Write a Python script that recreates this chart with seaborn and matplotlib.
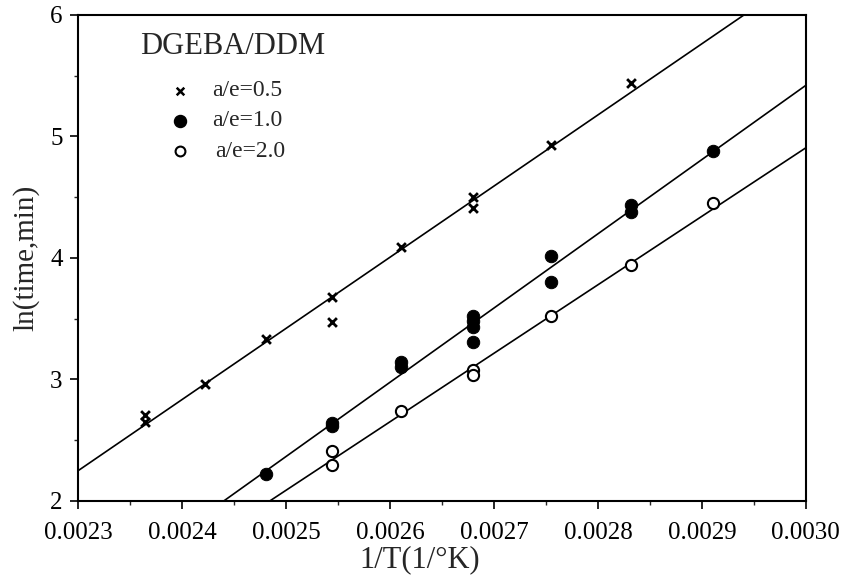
import numpy as np
import pandas as pd
import matplotlib
matplotlib.use("Agg")
import matplotlib.pyplot as plt
import seaborn as sns
from matplotlib.ticker import MultipleLocator

sns.set_style("ticks")
plt.rcParams['font.family'] = ['Liberation Serif', 'DejaVu Serif']
plt.rcParams['mathtext.fontset'] = 'stix'

# a/e = 0.5 (crosses)
x05 = [0.002364, 0.002364, 0.002422, 0.002481, 0.002544, 0.002544, 0.002611,
       0.002680, 0.002680, 0.002755, 0.002832]
y05 = [2.71, 2.65, 2.96, 3.33, 3.68, 3.47, 4.09, 4.50, 4.41, 4.93, 5.44]
# a/e = 1.0 (filled circles)
x10 = [0.002481, 0.002544, 0.002544, 0.002611, 0.002611, 0.002680, 0.002680,
       0.002680, 0.002680, 0.002755, 0.002755, 0.002832, 0.002832, 0.002911]
y10 = [2.22, 2.62, 2.64, 3.14, 3.10, 3.52, 3.48, 3.43, 3.31, 4.02, 3.80, 4.44,
       4.38, 4.88]
# a/e = 2.0 (open circles)
x20 = [0.002544, 0.002544, 0.002611, 0.002680, 0.002680, 0.002755, 0.002832,
       0.002911]
y20 = [2.41, 2.30, 2.74, 3.08, 3.04, 3.52, 3.94, 4.45]

labels = ["a/e=0.5", "a/e=1.0", "a/e=2.0"]
title_text = "DGEBA/DDM"

fig = plt.figure(figsize=(8.41, 5.75), dpi=100)
ax = fig.add_axes([0.0927, 0.1287, 0.8655, 0.8453])
ax.set_xlim(0.0023, 0.0030)
ax.set_ylim(2, 6)

df05 = pd.DataFrame({"x": x05, "y": y05})
df10 = pd.DataFrame({"x": x10, "y": y10})
df20 = pd.DataFrame({"x": x20, "y": y20})

for df in (df05, df10, df20):
    sns.regplot(data=df, x="x", y="y", scatter=False, ci=None, truncate=False,
                color="black", line_kws={"lw": 1.2}, ax=ax)

sns.scatterplot(data=df05, x="x", y="y", marker="x", s=40, color="black",
                linewidth=2.0, ax=ax, zorder=5)
sns.scatterplot(data=df10, x="x", y="y", marker="o", s=80, color="black",
                edgecolor="black", ax=ax, zorder=5)
sns.scatterplot(data=df20, x="x", y="y", marker="o", s=65, facecolor="white",
                edgecolor="black", linewidth=1.5, ax=ax, zorder=5)

ax.set_xlim(0.0023, 0.0030)
ax.set_ylim(2, 6)

# legend-like annotation
ax.text(0.085, 0.936, title_text, transform=ax.transAxes, fontsize=22,
        va="center", ha="left")
leg_y = [0.844, 0.782, 0.72]
leg_x = 0.002398
ax.scatter([leg_x], [2 + 4 * leg_y[0]], marker="x", s=30, color="black",
           linewidths=1.8, zorder=6)
ax.scatter([leg_x], [2 + 4 * leg_y[1]], marker="o", s=75, color="black",
           zorder=6)
ax.scatter([leg_x], [2 + 4 * leg_y[2]], marker="o", s=50, facecolor="white",
           edgecolor="black", linewidths=1.5, zorder=6)
for yy, lab, dx in zip(leg_y, labels, [0, 0, 0.004]):
    ax.text(0.184 + dx, yy, lab, transform=ax.transAxes, fontsize=17,
            va="center", ha="left")

ax.set_xlabel("1/T(1/°K)", fontsize=22)
ax.xaxis.set_label_coords(0.47, -0.092)
ax.set_ylabel("ln(time,min)", fontsize=21, labelpad=8)

ax.xaxis.set_major_locator(MultipleLocator(0.0001))
ax.xaxis.set_minor_locator(MultipleLocator(0.00005))
ax.yaxis.set_major_locator(MultipleLocator(1))
ax.yaxis.set_minor_locator(MultipleLocator(0.5))
ax.set_xticklabels([f"{v:.4f}" for v in ax.get_xticks()])
ax.tick_params(axis="both", which="major", labelsize=18, direction="out",
               length=6, width=1.2, colors="black", pad=5)
ax.tick_params(axis="x", which="major", pad=9)
ax.tick_params(axis="both", which="minor", direction="out", length=3,
               width=1.0)
for sp in ax.spines.values():
    sp.set_visible(True)
    sp.set_linewidth(1.5)
    sp.set_color("black")

fig.savefig("out.png", dpi=100)
